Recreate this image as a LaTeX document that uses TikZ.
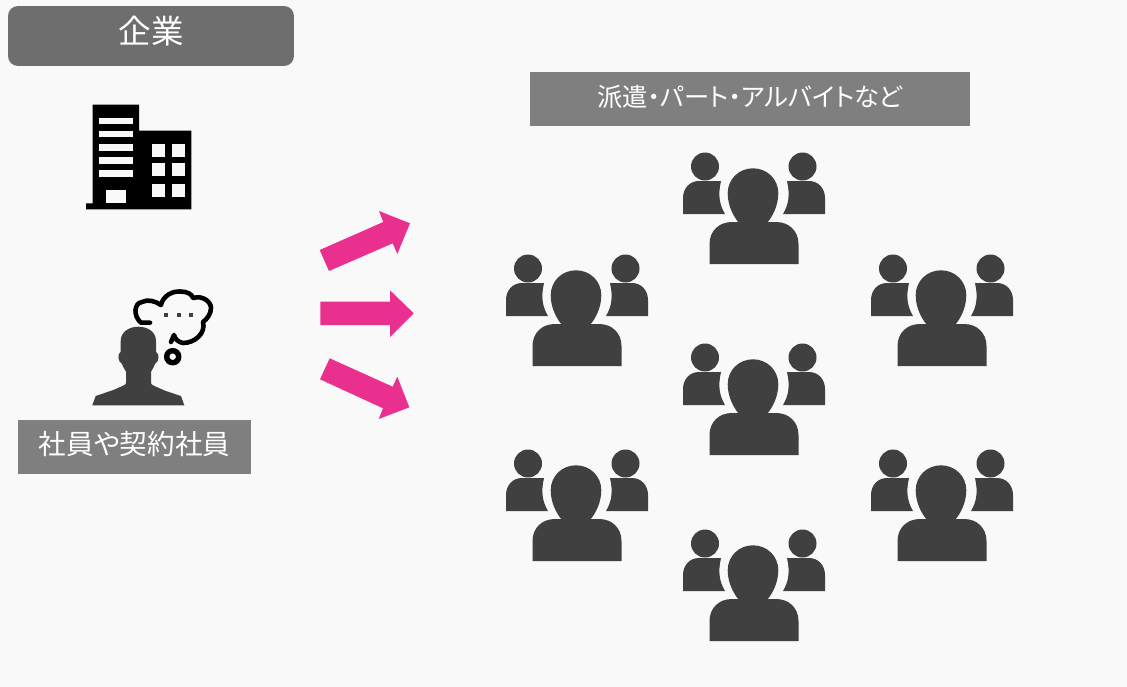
\documentclass[tikz,border=0pt]{standalone}
\usepackage{fontspec}
\newfontfamily\cjkfont[RawFeature=+palt]{Noto Sans CJK JP}
\definecolor{paper}{HTML}{F9F9F9}
\definecolor{iconfill}{HTML}{404040}
\definecolor{labelfill}{HTML}{7F7F7F}
\definecolor{titlefill}{HTML}{6E6E6E}
\definecolor{arrowfill}{HTML}{E9308F}
\tikzset{
  labelbox/.style={fill=labelfill,text=white,inner sep=0pt,text height=1em,text depth=0.12em,font=\cjkfont\fontsize{15.7}{18}\selectfont},
  blockarrow/.style={fill=arrowfill},
  pics/crowd/.style={code={
    \fill [iconfill] (-49,14.5) circle (14);
    \fill [iconfill] (48.5,14.5) circle (14);
    \fill [iconfill] (-71,62) -- (-71,46) .. controls (-71,36) and (-64,29) .. (-55,29) -- (-33,29) .. controls (-36,42) and (-35,52) .. (-29,62) -- cycle;
    \fill [iconfill] (71,62) -- (71,46) .. controls (71,36) and (64,29) .. (55,29) -- (33,29) .. controls (36,42) and (35,52) .. (29,62) -- cycle;
    \fill [iconfill] (-1,16.3) .. controls (-15,16.3) and (-26.3,27) .. (-26.3,41.3) .. controls (-26.3,53) and (-21,64) .. (-15,71) -- (13,71) .. controls (19,64) and (24.3,53) .. (24.3,41.3) .. controls (24.3,27) and (13,16.3) .. (-1,16.3) -- cycle;
    \fill [iconfill] (-44.5,112) -- (-44.5,92) .. controls (-44.5,79) and (-35,70) .. (-22,70) -- (22,70) .. controls (35,70) and (44.5,79) .. (44.5,92) -- (44.5,112) -- cycle;
  }}
}
\begin{document}
\begin{tikzpicture}[x=0.02cm,y=-0.02cm]
\fill [paper] (0,0) rectangle (1127,687);
\useasboundingbox (0,0) rectangle (1127,687);

% labels
\node [labelbox,fill=titlefill,rounded corners=0.2cm,minimum width=5.72cm,minimum height=1.2cm,font=\cjkfont\fontsize{18.5}{22}\selectfont] (company) at (151,36) {企業};
\node [labelbox,minimum width=8.8cm,minimum height=1.08cm,font=\cjkfont\fontsize{14.4}{18}\selectfont] (temps) at (750,99) {派遣・パート・アルバイトなど};
\node [labelbox,minimum width=4.66cm,minimum height=1.08cm] (staff) at (134.5,447) {社員や契約社員};

% building
\fill (92.7,104.7) -- (139,104.7) -- (139,130.7) -- (191.3,130.7) -- (191.3,209.3) -- (86,209.3) -- (86,203.3) -- (92.7,203.3) -- cycle;
\foreach \y in {117.7,130.7,144,157,170}
  \fill [paper] (99.3,\y) rectangle (132.7,\y+6.5);
\fill [paper] (105.7,190) rectangle (126,203.3);
\foreach \x in {152.3,171.7}
  \foreach \y in {143.7,163.3,183.7}
    \fill [paper] (\x,\y) rectangle (\x+13,\y+13);

% thinking person
\fill [iconfill] (92.3,405.3) -- (95.7,396) -- (113.3,390) .. controls (120,387) and (126,385) .. (126,383.3) -- (126,371.7) .. controls (124,369) and (123,366) .. (122,364)
  .. controls (118,362) and (117,354) .. (120.7,351.7) -- (120.7,341) .. controls (120.7,332) and (129,326.7) .. (138.3,326.7)
  .. controls (148,326.7) and (156,332) .. (156,341) -- (156,351.7) .. controls (160,354) and (159,362) .. (155,364)
  .. controls (154,366) and (153,369) .. (151,371.7) -- (151,383.3) .. controls (151,385) and (157,387) .. (165,390.7) -- (181,396) -- (184.3,405.3) -- cycle;
\draw [line width=2.6pt,line cap=round,line join=round] (150,322.7) -- (141,322.7) .. controls (133,316) and (134,303) .. (142,302)
  .. controls (148,299) and (155,301) .. (161,305) .. controls (163,296) and (172,291) .. (180,291.5)
  .. controls (187,291.5) and (192,294) .. (193,298) .. controls (203,295) and (211,302) .. (211,308)
  .. controls (211,314) and (207,319) .. (203,322) .. controls (206,333) and (195,343) .. (183,343)
  .. controls (178,342) and (175,339) .. (174,335) -- (171,342);
\draw [line width=3.1pt] (172.7,356.7) circle (6);
\foreach \x in {166.3,178.7,191.3}
  \fill [iconfill] (\x-2,312.7) rectangle (\x+2,316.7);

% arrows
\fill [blockarrow] (319.7,250) -- (383.3,222) -- (379,211) -- (410,223.3) -- (397.3,254) -- (392.7,243.3) -- (329,271) -- cycle;
\fill [blockarrow] (320.3,301.7) -- (390,301.7) -- (390,290.3) -- (413.7,313.3) -- (390,337) -- (390,325) -- (320.3,325) -- cycle;
\fill [blockarrow] (329.7,358.3) -- (392.7,386.7) -- (397.3,376.7) -- (409.3,407.3) -- (378.7,419) -- (383,408.3) -- (320,379.3) -- cycle;

% people
\foreach \x/\y in {754/152,577/254,942/254,754/343,577/449,942/449,754/529}
  \pic at (\x,\y) {crowd};

\end{tikzpicture}
\end{document}
